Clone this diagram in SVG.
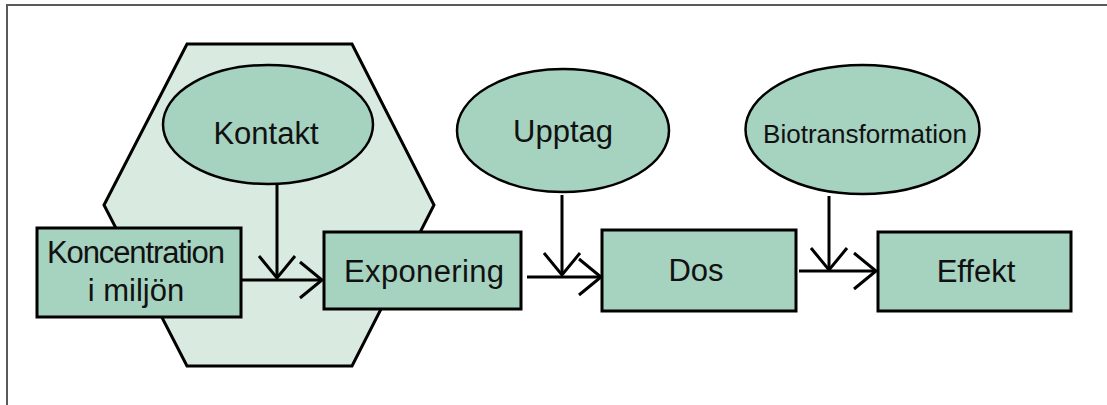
<svg xmlns="http://www.w3.org/2000/svg" width="1107" height="405" viewBox="0 0 1107 405">
  <style>
    .frame { fill: none; stroke: #5a5a5a; stroke-width: 2; }
    .zone { fill: #d9eae1; stroke: #000; stroke-width: 3; stroke-linejoin: miter; }
    .node { fill: #a6d2c0; stroke: #000; stroke-width: 3; }
    .oval { fill: #a6d2c0; stroke: #000; stroke-width: 2.5; }
    .label { font-family: "Liberation Sans", Arial, sans-serif; font-size: 31px; fill: #111; text-anchor: middle; }
    .small { font-size: 26px; }
    .link { fill: none; stroke: #000; stroke-width: 3; marker-end: url(#open-arrow); }
  </style>
  <defs>
    <marker id="open-arrow" markerUnits="userSpaceOnUse" viewBox="-26 -22 30 44" markerWidth="30" markerHeight="44" refX="0" refY="0" orient="auto" overflow="visible">
      <path d="M-22,-18 L0,0 L-22,18" fill="none" stroke="#000" stroke-width="3"/>
    </marker>
  </defs>

  <rect width="1107" height="405" fill="#fff"/>
  <!-- page frame: top and left edges only -->
  <path class="frame" d="M7,405 V5 H1107"/>

  <!-- exposure zone behind the first two steps -->
  <g id="exposure-zone">
    <polygon class="zone" points="187,44 352,44 434,205 352,366 187,366 104,205"/>
  </g>

  <g id="kontakt">
    <ellipse class="oval" cx="268" cy="124.5" rx="105" ry="59.5"/>
    <text class="label" x="266" y="144">Kontakt</text>
  </g>

  <g id="upptag">
    <ellipse class="oval" cx="563" cy="130.5" rx="106" ry="61.5"/>
    <text class="label" x="563" y="142">Upptag</text>
  </g>

  <g id="biotransformation">
    <ellipse class="oval" cx="862.5" cy="129.5" rx="117" ry="64.5"/>
    <text class="label small" x="865" y="143">Biotransformation</text>
  </g>

  <g id="koncentration">
    <rect class="node" x="37" y="228" width="204" height="89"/>
    <text class="label" x="136" y="263" textLength="178">Koncentration</text>
    <text class="label" x="136" y="301">i miljön</text>
  </g>

  <g id="exponering">
    <rect class="node" x="324" y="232" width="197" height="77"/>
    <text class="label" x="424" y="282" textLength="160">Exponering</text>
  </g>

  <g id="dos">
    <rect class="node" x="602" y="230" width="194" height="81"/>
    <text class="label" x="696" y="281">Dos</text>
  </g>

  <g id="effekt">
    <rect class="node" x="878" y="232" width="193" height="79"/>
    <text class="label" x="976" y="282">Effekt</text>
  </g>

  <g id="connectors">
    <path class="link" d="M241,280 H322"/>
    <path class="link" d="M277,185 V278"/>
    <path class="link" d="M527,277 H601"/>
    <path class="link" d="M562,195 V275"/>
    <path class="link" d="M799,271 H876"/>
    <path class="link" d="M829,196 V270"/>
  </g>
</svg>
